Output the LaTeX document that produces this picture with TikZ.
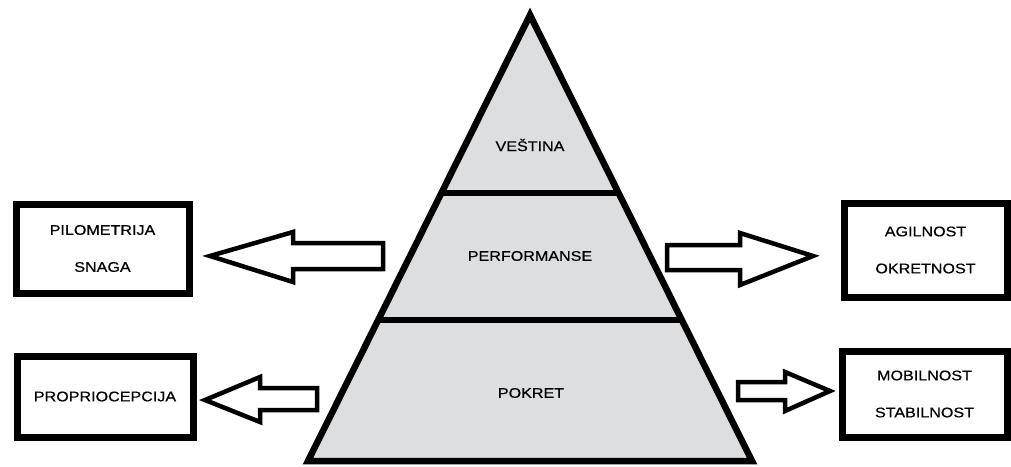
\documentclass[tikz,border=0pt]{standalone}
\usepackage{fontspec}
\setmainfont{Liberation Sans}[FakeStretch=1.15,FakeBold=0.6]
\usetikzlibrary{calc}
\definecolor{pyrfill}{RGB}{221,222,224}

\begin{document}
\begin{tikzpicture}[x=1pt,y=-1pt,
  box/.style={draw,line width=7pt,inner sep=0pt,align=center,font=\fontsize{14}{37}\selectfont},
  tier/.style={font=\fontsize{14}{17}\selectfont},
  bigarrow/.style={draw,line width=4.5pt,fill=white}]
  \useasboundingbox (0,0) rectangle (1011,466);
  % pyramid
  \coordinate (top) at (530,15);
  \coordinate (bl) at (308,461);
  \coordinate (br) at (752,461);
  \draw[line width=6.5pt,fill=pyrfill] (top) -- (bl) -- (br) -- cycle;
  \draw[line width=6.5pt] ($(top)!0.399!(bl)$) -- ($(top)!0.399!(br)$);
  \draw[line width=6.5pt] ($(top)!0.684!(bl)$) -- ($(top)!0.684!(br)$);
  \node[tier] (vestina) at (530,145) {VEŠTINA};
  \node[tier] (perf) at (530,256) {PERFORMANSE};
  \node[tier] (pokret) at (531,393) {POKRET};
  % boxes
  \node[box,minimum width=173pt,minimum height=89pt] (pilo) at (102.5,248.5) {PILOMETRIJA\\SNAGA};
  \node[box,minimum width=163pt,minimum height=94pt] (agil) at (925.5,250) {AGILNOST\\OKRETNOST};
  \node[box,minimum width=176pt,minimum height=81pt] (propr) at (105,396.5) {PROPRIOCEPCIJA};
  \node[box,minimum width=165pt,minimum height=86pt] (mobil) at (924.5,394) {MOBILNOST\\STABILNOST};
  % arrows
  \draw[bigarrow] (383,243) -- (293,243) -- (293,232) -- (210,256) -- (293,282) -- (293,269) -- (383,269) -- cycle;
  \draw[bigarrow] (667,245) -- (740,245) -- (740,233) -- (813,256) -- (740,285) -- (740,270) -- (667,270) -- cycle;
  \draw[bigarrow] (317,388) -- (260,388) -- (260,377) -- (205,400) -- (260,422) -- (260,410) -- (317,410) -- cycle;
  \draw[bigarrow] (738,382) -- (785,382) -- (785,372) -- (830,391) -- (785,411) -- (785,400) -- (738,400) -- cycle;
\end{tikzpicture}
\end{document}
